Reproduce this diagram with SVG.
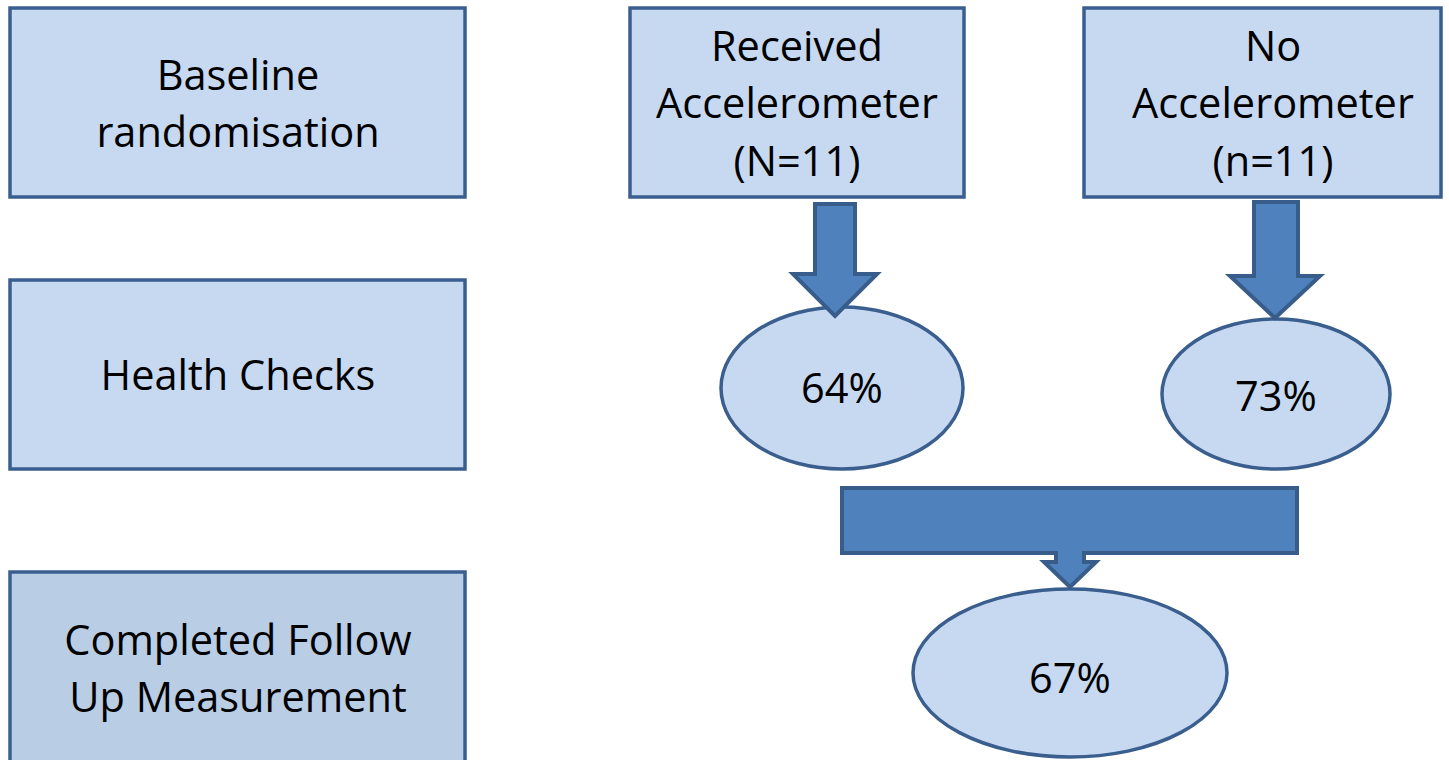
<svg xmlns="http://www.w3.org/2000/svg" width="1449" height="760" viewBox="0 0 1449 760">
<style>
.box{fill:#c6d9f1;stroke:#3a5f8f;stroke-width:3.5}
.box2{fill:#b9cde5;stroke:#3a5f8f;stroke-width:3.5}
.ell{fill:#c6d9f1;stroke:#3a5f8f;stroke-width:3.5}
.arr{fill:#4f81bd;stroke:#385d8a;stroke-width:4;stroke-linejoin:miter}
text{font-family:"Open Sans","Liberation Sans",sans-serif;font-size:41.5px;fill:#000;text-anchor:middle}
</style>
<rect width="1449" height="760" fill="#fff"/>
<g id="baseline"><rect class="box" x="10" y="8" width="455" height="189"/>
<text x="238" y="90">Baseline</text><text x="238" y="147">randomisation</text></g>
<g id="health"><rect class="box" x="10" y="280" width="455" height="189"/>
<text x="238" y="390">Health Checks</text></g>
<g id="completed"><rect class="box2" x="10" y="572" width="455" height="200"/>
<text x="238" y="655">Completed Follow</text><text x="238" y="712">Up Measurement</text></g>
<g id="received"><rect class="box" x="630" y="8" width="334" height="189"/>
<text x="797" y="61">Received</text><text x="797" y="118">Accelerometer</text><text x="797" y="176">(N=11)</text></g>
<g id="noacc"><rect class="box" x="1084" y="8" width="357" height="189"/>
<text x="1273" y="61">No</text><text x="1273" y="118">Accelerometer</text><text x="1273" y="176">(n=11)</text></g>
<g id="p64"><ellipse class="ell" cx="842" cy="388" rx="121" ry="81"/><text x="842" y="403">64%</text></g>
<g id="p73"><ellipse class="ell" cx="1276" cy="394" rx="114" ry="75"/><text x="1276" y="411">73%</text></g>
<g id="p67"><ellipse class="ell" cx="1070" cy="673" rx="157" ry="84"/><text x="1070" y="693">67%</text></g>
<g id="connectors">
<path class="arr" d="M815,204 H855 V274 H877 L835,316 L793,274 H815 Z"/>
<path class="arr" d="M1254,202 H1298 V276 H1320 L1275,318 L1230,276 H1254 Z"/>
<path class="arr" d="M842,488 H1297 V553 H1084 V562 H1096 L1070,587 L1044,562 H1056 V553 H842 Z"/>
</g>
</svg>
